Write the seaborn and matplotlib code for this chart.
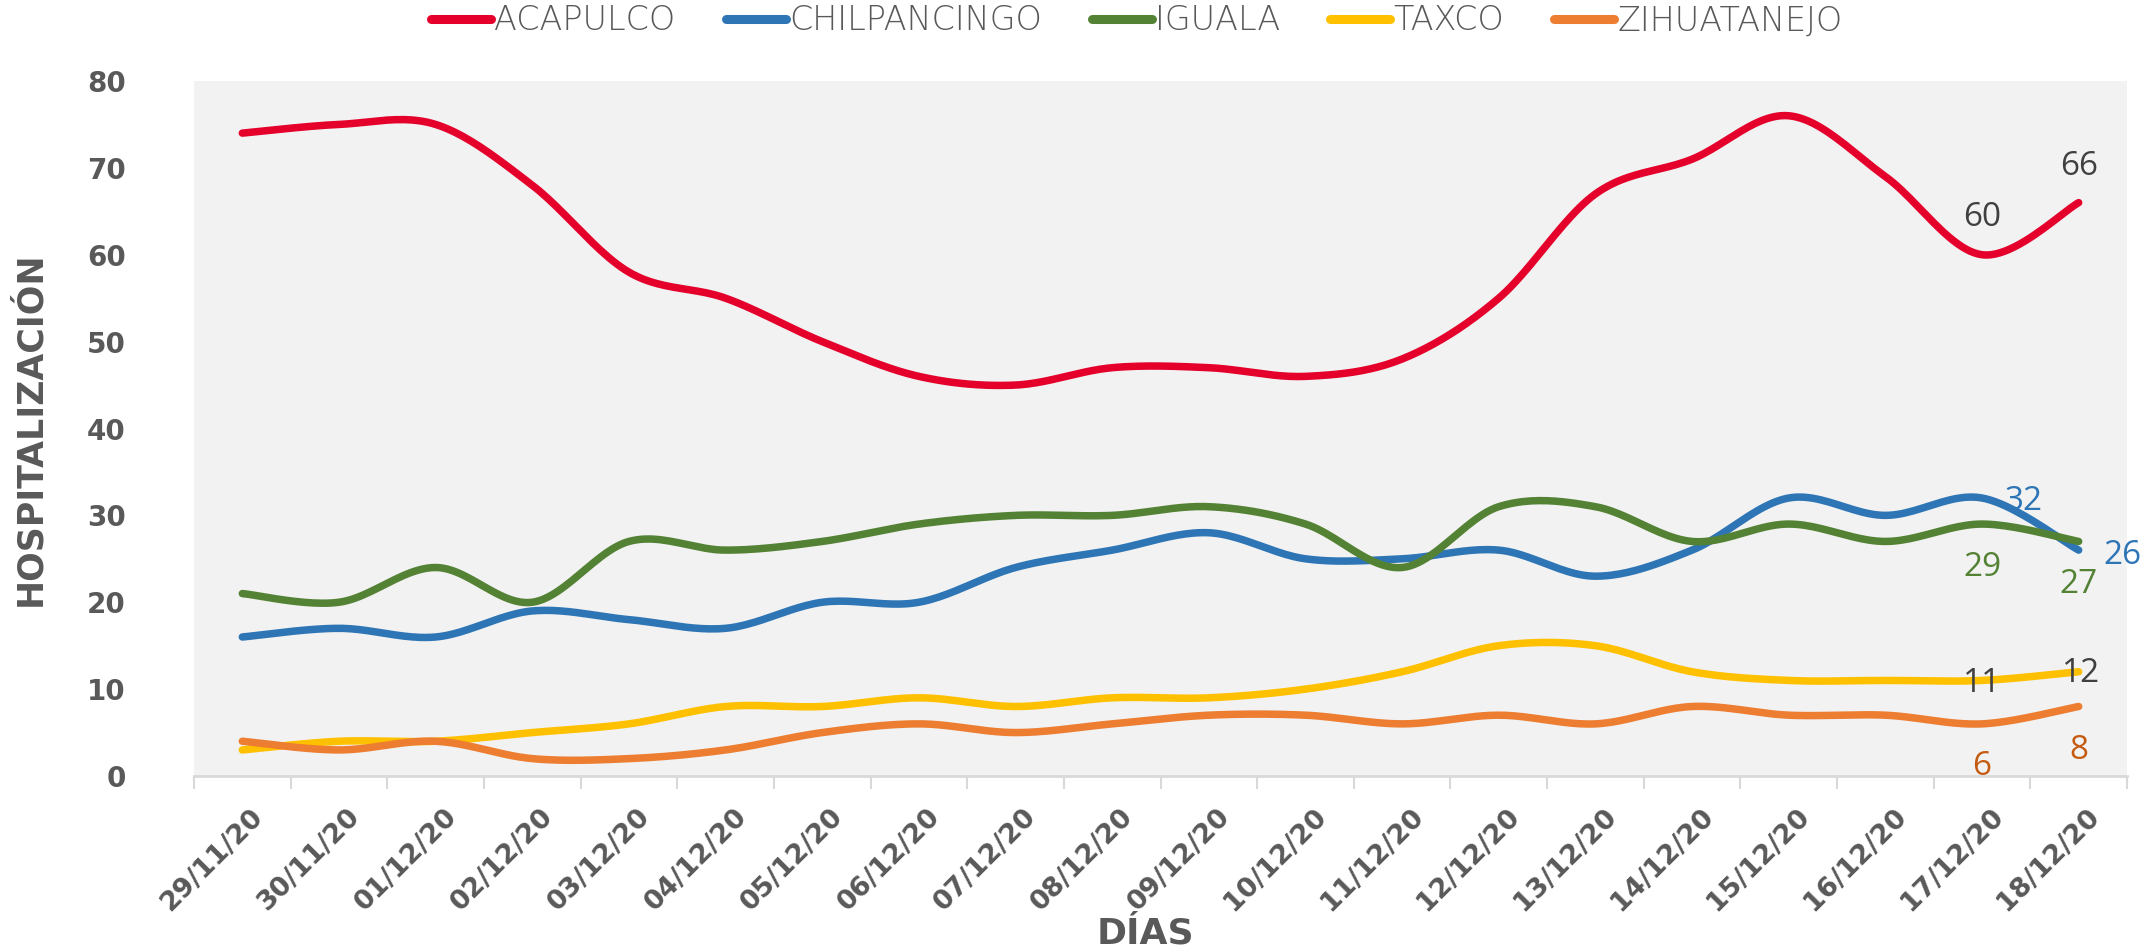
import numpy as np
import pandas as pd
import matplotlib
matplotlib.use("Agg")
import matplotlib.pyplot as plt
import matplotlib.transforms as mtransforms
from matplotlib.lines import Line2D
import seaborn as sns

# ── data ───────────────────────────────────────────────────────────────────
dates = ["29/11/20", "30/11/20", "01/12/20", "02/12/20", "03/12/20",
         "04/12/20", "05/12/20", "06/12/20", "07/12/20", "08/12/20",
         "09/12/20", "10/12/20", "11/12/20", "12/12/20", "13/12/20",
         "14/12/20", "15/12/20", "16/12/20", "17/12/20", "18/12/20"]

acapulco     = [74, 75, 75, 68, 58, 55, 50, 46, 45, 47, 47, 46, 48, 55, 67, 71, 76, 69, 60, 66]
chilpancingo = [16, 17, 16, 19, 18, 17, 20, 20, 24, 26, 28, 25, 25, 26, 23, 26, 32, 30, 32, 26]
iguala       = [21, 20, 24, 20, 27, 26, 27, 29, 30, 30, 31, 29, 24, 31, 31, 27, 29, 27, 29, 27]
taxco        = [3, 4, 4, 5, 6, 8, 8, 9, 8, 9, 9, 10, 12, 15, 15, 12, 11, 11, 11, 12]
zihuatanejo  = [4, 3, 4, 2, 2, 3, 5, 6, 5, 6, 7, 7, 6, 7, 6, 8, 7, 7, 6, 8]

series = {
    "ACAPULCO": acapulco,
    "CHILPANCINGO": chilpancingo,
    "IGUALA": iguala,
    "TAXCO": taxco,
    "ZIHUATANEJO": zihuatanejo,
}

colors = {
    "ACAPULCO": "#E4002B",
    "CHILPANCINGO": "#2E75B6",
    "IGUALA": "#548235",
    "TAXCO": "#FFC000",
    "ZIHUATANEJO": "#ED7D31",
}
label_colors = {
    "ACAPULCO": "#404040",
    "CHILPANCINGO": "#2E75B6",
    "IGUALA": "#548235",
    "TAXCO": "#404040",
    "ZIHUATANEJO": "#C55A11",
}
# pixel offsets of the two end labels (17/12 and 18/12)
label_offsets = {
    "ACAPULCO": [(0, 37), (0, 36)],
    "CHILPANCINGO": [(42, -3), (44, -5)],
    "IGUALA": [(0, -43), (0, -43)],
    "TAXCO": [(0, -3), (2, -2)],
    "ZIHUATANEJO": [(0, -43), (0, -44)],
}


def smooth_curve(values, n=24):
    """Bezier smoothing like a spreadsheet 'smoothed line'."""
    y = np.asarray(values, float)
    pts = np.column_stack([np.arange(len(y)), y])
    out = []
    last = len(pts) - 2
    for i in range(len(pts) - 1):
        p0 = pts[max(i - 1, 0)]
        p1 = pts[i]
        p2 = pts[i + 1]
        p3 = pts[min(i + 2, len(pts) - 1)]
        c1 = p1 + (p2 - p0) / 6
        c2 = p2 - (p3 - p1) / 6
        t = np.linspace(0, 1, n, endpoint=(i == last))[:, None]
        out.append((1 - t) ** 3 * p1 + 3 * (1 - t) ** 2 * t * c1
                   + 3 * (1 - t) * t ** 2 * c2 + t ** 3 * p2)
    return np.vstack(out)


frames = []
for name, vals in series.items():
    xy = smooth_curve(vals)
    frames.append(pd.DataFrame({"x": xy[:, 0], "y": xy[:, 1], "serie": name}))
df = pd.concat(frames, ignore_index=True)

sns.set_theme(style="white")
plt.rcParams["font.family"] = ["DejaVu Sans"]

fig = plt.figure(figsize=(21.53, 9.52), dpi=100)
ax = fig.add_axes([194 / 2153, 1 - 776 / 952, (2127 - 194) / 2153, (776 - 81) / 952])
ax.set_facecolor("#F2F2F2")

sns.lineplot(
    data=df, x="x", y="y", hue="serie", palette=colors,
    estimator=None, sort=False, linewidth=5.4, legend=False, ax=ax,
    solid_capstyle="round",
)

# end-point data labels
for name, vals in series.items():
    for k, idx in enumerate([len(vals) - 2, len(vals) - 1]):
        ax.annotate(
            str(vals[idx]), (idx, vals[idx]),
            xytext=label_offsets[name][k], textcoords="offset pixels",
            ha="center", va="center", fontsize=24,
            color=label_colors[name], family="Open Sans",
        )

ax.set_xlim(-0.5, len(dates) - 0.5)
ax.set_ylim(0, 80)
ax.set_yticks(range(0, 81, 10))
ax.set_xticks(range(len(dates)))
ax.set_xticklabels(dates, rotation=45, ha="right", rotation_mode="anchor")
ax.set_xticks(np.arange(-0.5, len(dates), 1), minor=True)

ax.tick_params(axis="x", which="major", length=0, pad=20,
               labelsize=19.5, labelcolor="#595959")
ax.tick_params(axis="x", which="minor", length=9, width=1.5,
               color="#D9D9D9", direction="out", bottom=True)
ax.tick_params(axis="y", length=0, pad=49, labelsize=20, labelcolor="#595959")
shift = mtransforms.ScaledTranslation(8 / 100, 0, fig.dpi_scale_trans)
for lab in ax.get_xticklabels():
    lab.set_fontweight("bold")
    lab.set_transform(lab.get_transform() + shift)
for lab in ax.get_yticklabels():
    lab.set_fontweight("bold")

for side in ["top", "right", "left"]:
    ax.spines[side].set_visible(False)
ax.spines["bottom"].set_color("#D9D9D9")
ax.spines["bottom"].set_linewidth(2)
ax.grid(False)

ax.set_xlabel("")
ax.set_ylabel("HOSPITALIZACIÓN", fontsize=25, fontweight="bold", color="#595959")
ax.yaxis.set_label_coords(-0.076, 0.5)
fig.text(1145 / 2153, 1 - 934 / 952, "DÍAS", fontsize=26, fontweight="bold",
         color="#595959", ha="center", va="center")

handles = [Line2D([0], [0], color=colors[n], linewidth=6.5, solid_capstyle="round")
           for n in series]
fig.legend(
    handles, list(series.keys()), loc="center", ncol=5,
    bbox_to_anchor=(1137 / 2153, 1 - 21 / 952), frameon=False,
    handlelength=1.8, handletextpad=0.1, columnspacing=1.5,
    prop={"family": "DejaVu Sans", "weight": "light", "size": 24},
    labelcolor="#595959",
)

fig.savefig("out.png", dpi=100)
plt.close(fig)
